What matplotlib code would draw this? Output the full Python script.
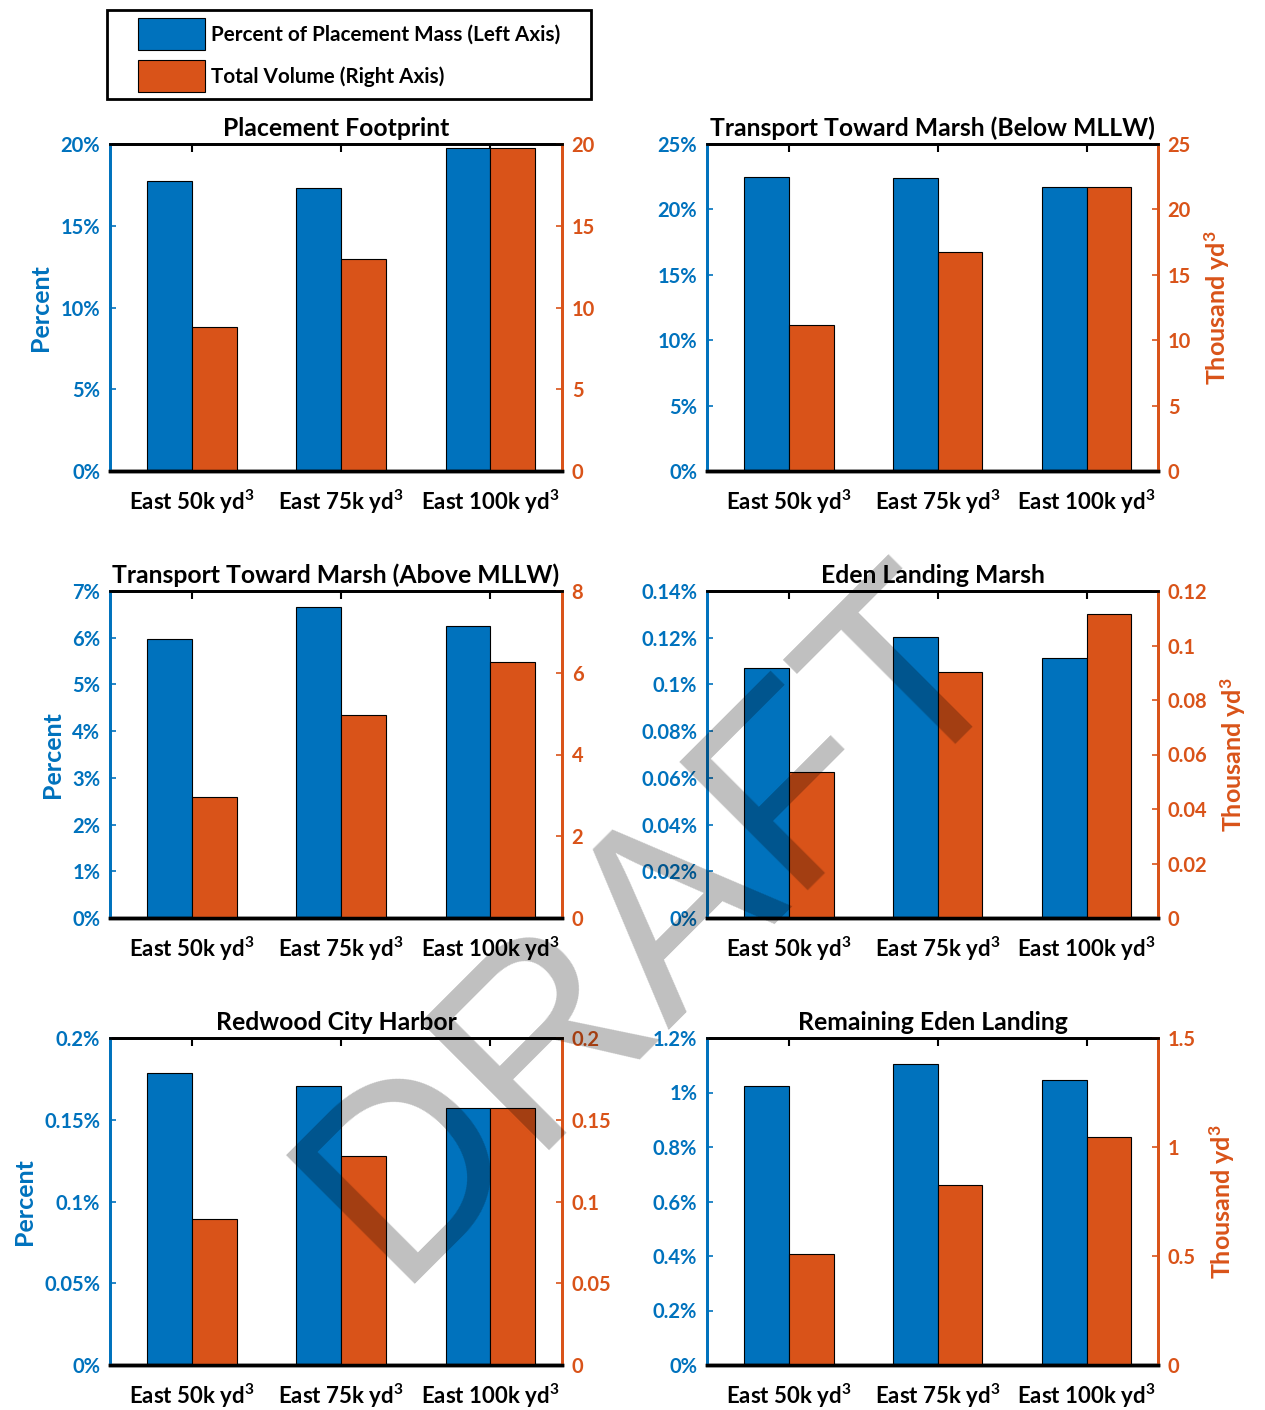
import numpy as np
import matplotlib
matplotlib.use('Agg')
import matplotlib.pyplot as plt
from matplotlib.patches import Patch, Rectangle
from matplotlib.ticker import FuncFormatter

plt.rcParams['font.family'] = ['Lato', 'DejaVu Sans']
plt.rcParams['mathtext.fontset'] = 'custom'
plt.rcParams['mathtext.rm'] = 'Lato:bold'
plt.rcParams['mathtext.bf'] = 'Lato:bold'
plt.rcParams['mathtext.default'] = 'regular'

BLUE = '#0072BD'
ORANGE = '#D95319'

# data
scenarios = ['East 50k yd$^3$', 'East 75k yd$^3$', 'East 100k yd$^3$']
titles = ['Placement Footprint', 'Transport Toward Marsh (Below MLLW)',
          'Transport Toward Marsh (Above MLLW)', 'Eden Landing Marsh',
          'Redwood City Harbor', 'Remaining Eden Landing']

pct_footprint = [17.72, 17.32, 19.76]
vol_footprint = [8.79, 12.97, 19.76]
pct_below = [22.46, 22.41, 21.73]
vol_below = [11.17, 16.78, 21.73]
pct_above = [5.98, 6.65, 6.26]
vol_above = [2.97, 4.97, 6.26]
pct_eden_marsh = [0.1070, 0.1203, 0.1115]
vol_eden_marsh = [0.0534, 0.0901, 0.1115]
pct_redwood = [0.1788, 0.1708, 0.1569]
vol_redwood = [0.0891, 0.1277, 0.1569]
pct_remaining = [1.025, 1.106, 1.046]
vol_remaining = [0.507, 0.824, 1.044]

pct_series = [pct_footprint, pct_below, pct_above, pct_eden_marsh, pct_redwood, pct_remaining]
vol_series = [vol_footprint, vol_below, vol_above, vol_eden_marsh, vol_redwood, vol_remaining]

left_ticks = [[0, 5, 10, 15, 20], [0, 5, 10, 15, 20, 25], [0, 1, 2, 3, 4, 5, 6, 7],
              [0, 0.02, 0.04, 0.06, 0.08, 0.1, 0.12, 0.14], [0, 0.05, 0.1, 0.15, 0.2],
              [0, 0.2, 0.4, 0.6, 0.8, 1, 1.2]]
right_ticks = [[0, 5, 10, 15, 20], [0, 5, 10, 15, 20, 25], [0, 2, 4, 6, 8],
               [0, 0.02, 0.04, 0.06, 0.08, 0.1, 0.12], [0, 0.05, 0.1, 0.15, 0.2],
               [0, 0.5, 1, 1.5]]

W, H = 1265, 1410
fig = plt.figure(figsize=(W / 100, H / 100), dpi=100)

col_x = [110, 707]
col_w = [452, 451]
row_top = [144, 591, 1038]
row_h = 327

x = np.arange(1, len(scenarios) + 1)
bw = 0.3

for i in range(6):
    r, c = divmod(i, 2)
    rect = [col_x[c] / W, 1 - (row_top[r] + row_h) / H, col_w[c] / W, row_h / H]
    ax = fig.add_axes(rect)
    ax2 = ax.twinx()

    ax.bar(x - bw / 2, pct_series[i], width=bw, color=BLUE, edgecolor='black', linewidth=0.8, zorder=2)
    ax2.bar(x + bw / 2, vol_series[i], width=bw, color=ORANGE, edgecolor='black', linewidth=0.8, zorder=2)

    ax.set_xlim(0.45, 3.48)
    ax.set_ylim(0, left_ticks[i][-1])
    ax2.set_ylim(0, right_ticks[i][-1])
    ax.set_yticks(left_ticks[i])
    ax2.set_yticks(right_ticks[i])
    ax.yaxis.set_major_formatter(FuncFormatter(lambda v, p: f'{v:g}%'))
    ax2.yaxis.set_major_formatter(FuncFormatter(lambda v, p: f'{v:g}'))
    ax.set_xticks(x)
    ax.set_xticklabels(scenarios)

    ax.tick_params(axis='y', direction='in', colors=BLUE, length=4, width=1.2, labelsize=14.5, pad=7)
    ax2.tick_params(axis='y', direction='in', colors=ORANGE, length=4, width=1.2, labelsize=14.5, pad=7)
    ax.tick_params(axis='x', direction='in', top=True, length=6, width=1.5, colors='black',
                   labelsize=16, pad=12)
    for lbl in ax.get_yticklabels() + ax2.get_yticklabels() + ax.get_xticklabels():
        lbl.set_fontweight('bold')

    for a in (ax, ax2):
        a.spines['top'].set_color('black')
        a.spines['bottom'].set_color('black')
        a.spines['top'].set_linewidth(2)
        a.spines['bottom'].set_linewidth(2.5)
        a.spines['left'].set_color(BLUE)
        a.spines['right'].set_color(ORANGE)
        a.spines['left'].set_linewidth(2)
        a.spines['right'].set_linewidth(2)

    ax.set_title(titles[i], fontsize=17.8, fontweight='bold', pad=6)
    if c == 0:
        ax.set_ylabel('Percent', color=BLUE, fontsize=18, fontweight='bold', labelpad=6)
    else:
        ax2.set_ylabel('Thousand yd$^3$', color=ORANGE, fontsize=18, fontweight='bold', labelpad=8)

# legend box drawn by hand so the padding matches
fig.patches.append(Rectangle((107 / W, 1 - 99 / H), 484 / W, 89 / H, transform=fig.transFigure,
                             facecolor='white', edgecolor='black', linewidth=2, zorder=1))
handles = [Patch(facecolor=BLUE, edgecolor='black', linewidth=0.8),
           Patch(facecolor=ORANGE, edgecolor='black', linewidth=0.8)]
labels = ['Percent of Placement Mass (Left Axis)', 'Total Volume (Right Axis)']
leg = fig.legend(handles, labels, loc='upper left', bbox_to_anchor=(138 / W, 1 - 18 / H),
                 frameon=False, prop={'size': 14.9, 'weight': 'bold'},
                 handlelength=3.25, handleheight=2.0, borderpad=0, labelspacing=0.5,
                 handletextpad=0.3, borderaxespad=0)

# watermark
fig.text(393 / W, 1 - 1284 / H, 'DRAFT', rotation=45, rotation_mode='anchor',
         ha='left', va='baseline', fontsize=190, family='Liberation Sans',
         color='black', alpha=0.25, zorder=10)

fig.savefig('out.png', dpi=100)
